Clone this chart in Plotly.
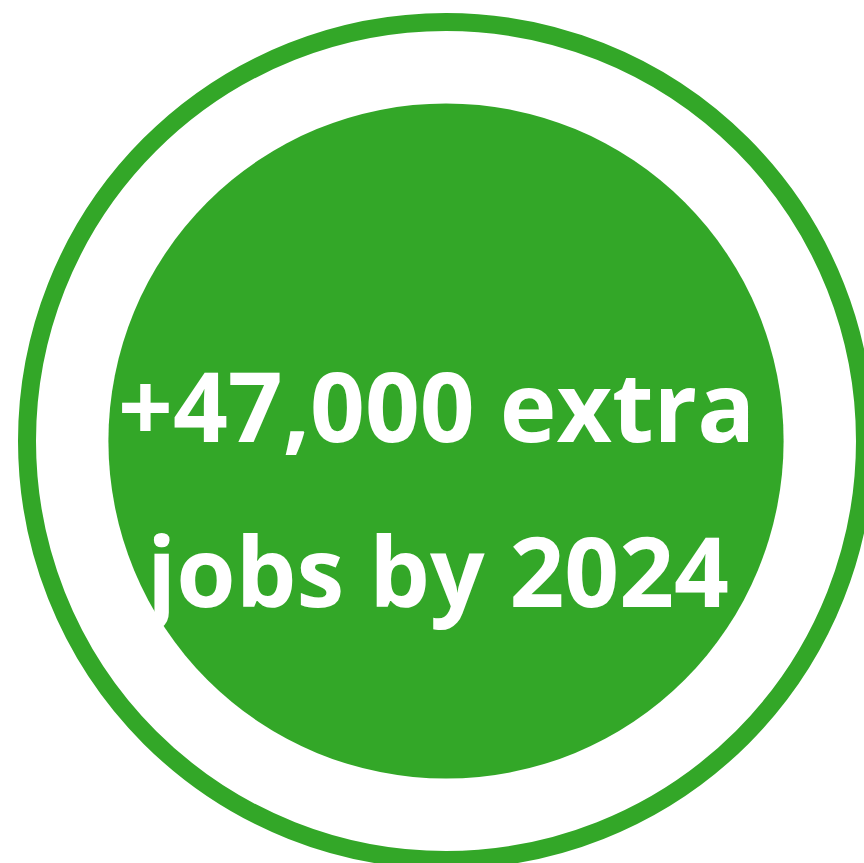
import plotly.graph_objects as go

# ---- data ----
text_lines = ["+47,000 extra", "jobs by 2024"]
text_x = [436, 434]          # horizontal centre of each line (px)
text_y = [404, 569]          # vertical centre of each line (px from top)
ring_center = [446, 441]
ring_radius = 419
ring_width = 18
disc_radius = 337.6
green = "#33a728"

W, H = 864, 863
fig = go.Figure()
fig.add_trace(go.Scatter(x=[0, W], y=[0, H], mode="markers",
                         marker=dict(opacity=0), hoverinfo="skip", showlegend=False))

cx, cy = ring_center
fig.add_shape(type="circle", xref="x", yref="y",
              x0=cx - ring_radius, x1=cx + ring_radius,
              y0=cy - ring_radius, y1=cy + ring_radius,
              line=dict(color=green, width=ring_width), fillcolor="rgba(0,0,0,0)")
fig.add_shape(type="circle", xref="x", yref="y",
              x0=cx - disc_radius, x1=cx + disc_radius,
              y0=cy - disc_radius, y1=cy + disc_radius,
              line=dict(width=0), fillcolor=green)

for t, x, y in zip(text_lines, text_x, text_y):
    fig.add_annotation(x=x, y=y, xref="x", yref="y", text=t, showarrow=False,
                       xanchor="center", yanchor="middle",
                       font=dict(family="Open Sans", size=96, color="white", weight="bold"))

fig.update_xaxes(range=[0, W], visible=False, fixedrange=True)
fig.update_yaxes(range=[H, 0], visible=False, fixedrange=True)
fig.update_layout(width=W, height=H, margin=dict(l=0, r=0, t=0, b=0),
                  paper_bgcolor="white", plot_bgcolor="white", showlegend=False)

html = fig.to_html(full_html=True, include_plotlyjs=True, config={"displayModeBar": False})
html = html.replace("<head>", "<head><style>html,body{margin:0;padding:0;overflow:hidden;}</style>", 1)
with open("out.html", "w", encoding="utf-8") as f:
    f.write(html)
# (equivalent of fig.write_html("out.html") with zero page margin)
